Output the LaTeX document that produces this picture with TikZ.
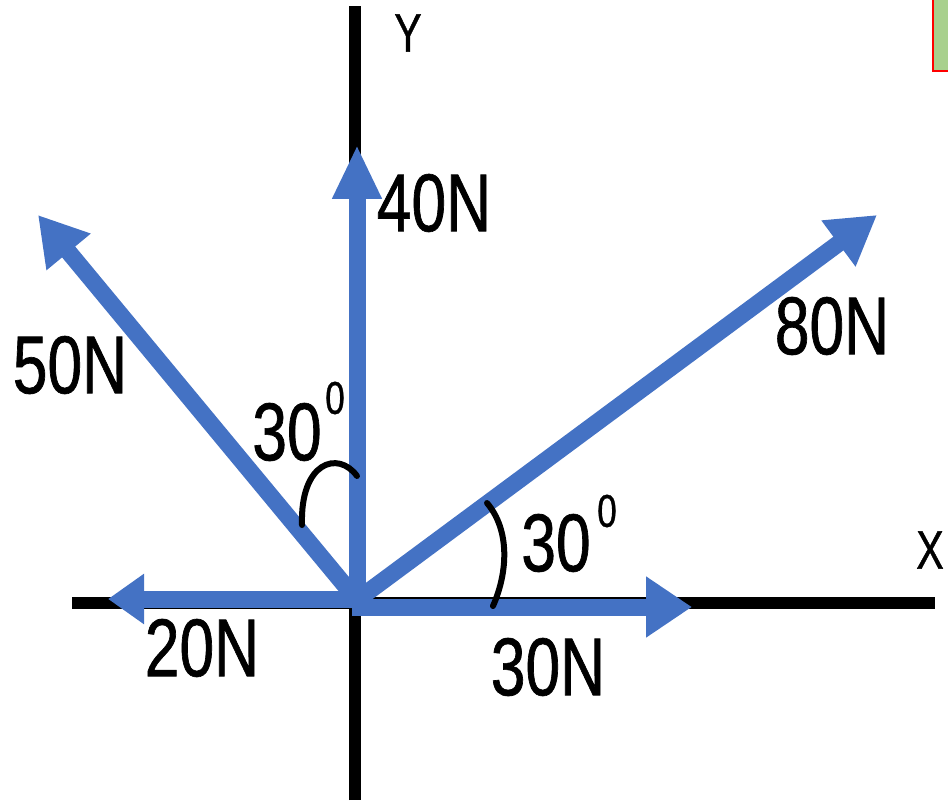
\documentclass[tikz,border=0pt]{standalone}
\usepackage{fontspec}
\newfontfamily\narrowsans[FakeStretch=0.76,FakeBold=0.8]{Liberation Sans}
\usetikzlibrary{arrows.meta}
\definecolor{forceblue}{RGB}{68,114,196}
\definecolor{notegreen}{RGB}{168,208,141}

\begin{document}
\begin{tikzpicture}[
  x=0.5pt,y=-0.5pt,line cap=butt,
  axis/.style={black,line width=6pt},
  force/.style={draw=forceblue,line width=8.5pt,
    -{Triangle[length=24pt,width=27pt]}},
  anglemark/.style={black,line width=3pt,line cap=round},
  flabel/.style={font=\narrowsans\fontsize{41}{41}\selectfont,inner sep=0pt},
  alabel/.style={font=\narrowsans\fontsize{27}{27}\selectfont,inner sep=0pt},
  degmark/.style={font=\narrowsans\fontsize{23}{23}\selectfont,inner sep=0pt}
]
  \useasboundingbox (0,0) rectangle (948,802);
  \begin{scope}
    \clip (0,0) rectangle (948,802);
    % Clipped note box at the top right.
    \draw[red,line width=1.2pt,fill=notegreen] (933,-10) rectangle (960,71);
  \end{scope}

  % Axes.
  \coordinate (yTop) at (355,6);
  \coordinate (yBot) at (355,800);
  \coordinate (xLeft) at (72,603);
  \coordinate (xRight) at (935,603);
  \draw[axis] (yBot) -- (yTop);
  \draw[axis] (xLeft) -- (xRight);
  \node[alabel] (ylab) at (408,33) {Y};
  \node[alabel] (xlab) at (930,550) {X};

  % Forces acting at the origin.
  \coordinate (O) at (357,600);
  \coordinate (Oup) at (357,604);
  \coordinate (Oleft) at (362,599);
  \coordinate (Oright) at (352,607);
  \coordinate (tip40) at (357,145);
  \coordinate (tip30) at (692,607);
  \coordinate (tip20) at (108,599);
  \coordinate (tip50) at (38,215);
  \coordinate (tip80) at (877,215);

  \draw[force] (O) -- (tip50);
  \draw[force] (O) -- (tip80);
  \draw[force,-{Triangle[length=27pt,width=23pt]}] (Oup) -- (tip40);
  \draw[force,-{Triangle[length=18pt,width=24pt]}] (Oleft) -- (tip20);
  \draw[force,-{Triangle[length=23pt,width=29pt]}] (Oright) -- (tip30);

  \node[flabel] (f40) at (434,203) {40N};
  \node[flabel] (f50) at (70,365) {50N};
  \node[flabel] (f80) at (832,326) {80N};
  \node[flabel] (f20) at (202,648) {20N};
  \node[flabel] (f30) at (548,667) {30N};

  % Angle marks.
  \draw[anglemark] (302,525) .. controls (300,462) and (338,450) .. (357,476);
  \draw[anglemark] (487,503) .. controls (510,530) and (508,572) .. (493,606);
  \node[flabel] (angUp) at (287,432) {30};
  \node[degmark] (degUp) at (335,398) {0};
  \node[flabel] (angLow) at (556,543) {30};
  \node[degmark] (degLow) at (607,511) {0};
\end{tikzpicture}
\end{document}
